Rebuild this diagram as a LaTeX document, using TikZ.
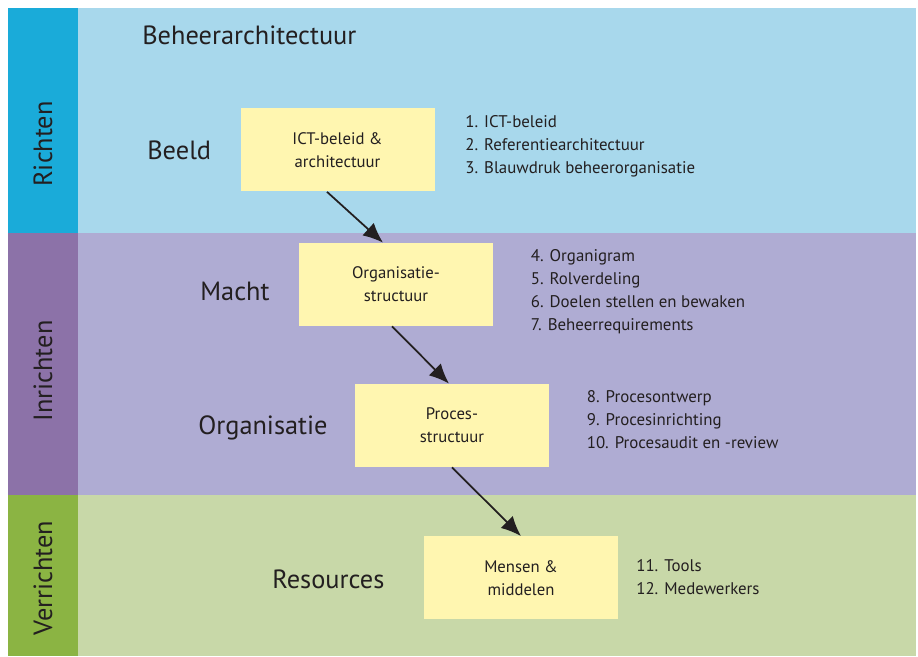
\documentclass[tikz,border=0pt]{standalone}
\usepackage{fontspec}
\setmainfont{PT Sans}
\usepackage{tikz}
\usetikzlibrary{arrows.meta}
\definecolor{richtdark}{HTML}{1AABD9}
\definecolor{richtlight}{HTML}{A8D8EC}
\definecolor{inrichtdark}{HTML}{8C72A8}
\definecolor{inrichtlight}{HTML}{AFACD3}
\definecolor{verrichtdark}{HTML}{8BB443}
\definecolor{verrichtlight}{HTML}{C8D8A8}
\definecolor{boxyellow}{HTML}{FFF6B0}
\definecolor{textgray}{HTML}{231F20}
\tikzstyle{yellowbox}=[fill=boxyellow, minimum width=3.88cm, minimum height=1.66cm, align=center, text=textgray, font=\fontsize{9.5}{13.1}\selectfont]
\tikzstyle{bigtext}=[anchor=west, inner sep=0pt, text=textgray, font=\fontsize{15}{18}\selectfont]
\tikzstyle{listtext}=[anchor=west, inner sep=0pt, align=left, text=textgray, font=\fontsize{9.6}{13.1}\selectfont]
\tikzstyle{sidetext}=[bigtext, anchor=center, rotate=90]
\tikzstyle{flowarrow}=[-{Latex[length=0.4cm,width=0.34cm]}, line width=1pt, draw=textgray]
\newcommand{\layerNband}[7]{
	\fill[#1] (0.16,#3) rectangle (1.56,#4);
	\fill[#2] (1.56,#3) rectangle (18.32,#4);
	\node[sidetext] (#5) at (0.86,#6) {#7};
}

\begin{document}
\begin{tikzpicture}
	\useasboundingbox (0,0) rectangle (18.36,13.14);
	\layerNband{richtdark}{richtlight}{8.48}{12.98}{richten}{10.26}{Richten}
	\layerNband{inrichtdark}{inrichtlight}{3.24}{8.48}{inrichten}{5.72}{Inrichten}
	\layerNband{verrichtdark}{verrichtlight}{0.02}{3.24}{verrichten}{1.58}{Verrichten}
	\node[bigtext] (title) at (2.84,12.44) {Beheerarchitectuur};
	\node[bigtext] (beeld) at (2.94,10.14) {Beeld};
	\node[bigtext] (macht) at (4.0,7.32) {Macht};
	\node[bigtext] (organisatie) at (3.96,4.58) {Organisatie};
	\node[bigtext] (resources) at (5.44,1.56) {Resources};
	\node[yellowbox] (ict) at (6.75,10.14) {ICT-beleid \&\\architectuur};
	\node[yellowbox] (orgstr) at (7.92,7.45) {Organisatie-\\structuur};
	\node[yellowbox] (procstr) at (9.04,4.63) {Proces-\\structuur};
	\node[yellowbox] (mensen) at (10.42,1.58) {Mensen \&\\middelen};
	\node[listtext] (list1) at (9.3,10.22) {1. ICT-beleid\\2. Referentiearchitectuur\\3. Blauwdruk beheerorganisatie};
	\node[listtext] (list2) at (10.61,7.31) {4. Organigram\\5. Rolverdeling\\6. Doelen stellen en bewaken\\7. Beheerrequirements};
	\node[listtext] (list3) at (11.73,4.74) {8. Procesontwerp\\9. Procesinrichting\\10. Procesaudit en -review};
	\node[listtext] (list4) at (12.72,1.59) {11. Tools\\12. Medewerkers};
	\draw[flowarrow] ([xshift=-0.21cm]ict.south) -- ([xshift=-0.26cm]orgstr.north);
	\draw[flowarrow] ([xshift=-0.08cm]orgstr.south) -- ([xshift=-0.06cm]procstr.north);
	\draw[flowarrow] (procstr.south) -- (mensen.north);
\end{tikzpicture}
\end{document}
